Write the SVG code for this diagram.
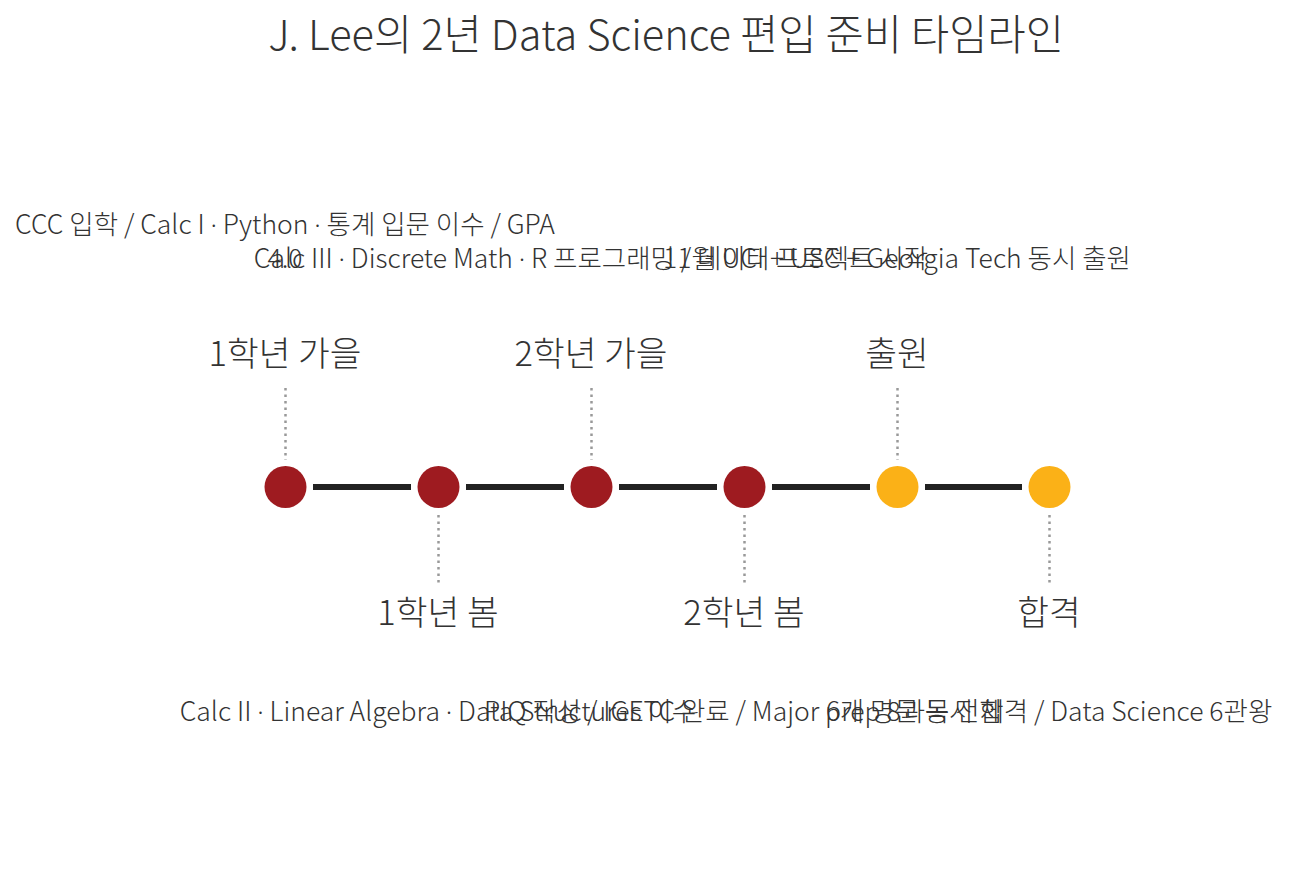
<svg xmlns="http://www.w3.org/2000/svg" width="1291" height="885" viewBox="0 0 1291 885">
<style>
text{font-family:"Noto Sans CJK KR","Noto Sans",sans-serif;font-weight:300;fill:#333;text-anchor:middle}
.title{font-size:41.5px}
.lbl{font-size:34.5px}
.desc{font-size:26.5px}
.md{font-family:"Noto Sans","Liberation Sans",sans-serif}
.dot{stroke:#999;stroke-width:2.5;stroke-dasharray:2.5 4}
.seg{stroke:#222;stroke-width:6}
.red{fill:#9E1B20}
.gold{fill:#FBB117}
</style>
<rect width="1291" height="885" fill="#fff"/>
<text class="title" x="666" y="50">J. Lee의 2년 Data Science 편입 준비 타임라인</text>
<g id="connectors">
<line class="seg" x1="313" y1="487" x2="411" y2="487"/>
<line class="seg" x1="466" y1="487" x2="564" y2="487"/>
<line class="seg" x1="619" y1="487" x2="717" y2="487"/>
<line class="seg" x1="772" y1="487" x2="870" y2="487"/>
<line class="seg" x1="925" y1="487" x2="1022" y2="487"/>
<line class="dot" x1="285.5" y1="388" x2="285.5" y2="460"/>
<line class="dot" x1="438.5" y1="515" x2="438.5" y2="585"/>
<line class="dot" x1="591.5" y1="388" x2="591.5" y2="460"/>
<line class="dot" x1="744.5" y1="515" x2="744.5" y2="585"/>
<line class="dot" x1="897.5" y1="388" x2="897.5" y2="460"/>
<line class="dot" x1="1049.5" y1="515" x2="1049.5" y2="585"/>
</g>
<g id="node1">
<circle class="red" cx="285.5" cy="487" r="21"/>
<text class="lbl" x="285" y="366">1학년 가을</text>
<text class="desc" x="285" y="233.5">CCC 입학 / Calc I <tspan class="md">·</tspan> Python <tspan class="md">·</tspan> 통계 입문 이수 / GPA</text>
<text class="desc" x="285" y="267.5">4.0</text>
</g>
<g id="node2">
<circle class="red" cx="438.5" cy="487" r="21"/>
<text class="lbl" x="438" y="625">1학년 봄</text>
<text class="desc" x="438" y="720.5">Calc II <tspan class="md">·</tspan> Linear Algebra <tspan class="md">·</tspan> Data Structures 이수</text>
</g>
<g id="node3">
<circle class="red" cx="591.5" cy="487" r="21"/>
<text class="lbl" x="591" y="366">2학년 가을</text>
<text class="desc" x="591" y="267.5">Calc III <tspan class="md">·</tspan> Discrete Math <tspan class="md">·</tspan> R 프로그래밍 / 데이터 프로젝트 시작</text>
</g>
<g id="node4">
<circle class="red" cx="744.5" cy="487" r="21"/>
<text class="lbl" x="744" y="625">2학년 봄</text>
<text class="desc" x="744" y="720.5">PIQ 작성 / IGETC 완료 / Major prep 8과목 전체</text>
</g>
<g id="node5">
<circle class="gold" cx="897.5" cy="487" r="21"/>
<text class="lbl" x="897" y="366">출원</text>
<text class="desc" x="897" y="267.5">11월 UCI + USC + Georgia Tech 동시 출원</text>
</g>
<g id="node6">
<circle class="gold" cx="1049.5" cy="487" r="21"/>
<text class="lbl" x="1049" y="625">합격</text>
<text class="desc" x="1049" y="720.5">6개 명문 동시 합격 / Data Science 6관왕</text>
</g>
</svg>
